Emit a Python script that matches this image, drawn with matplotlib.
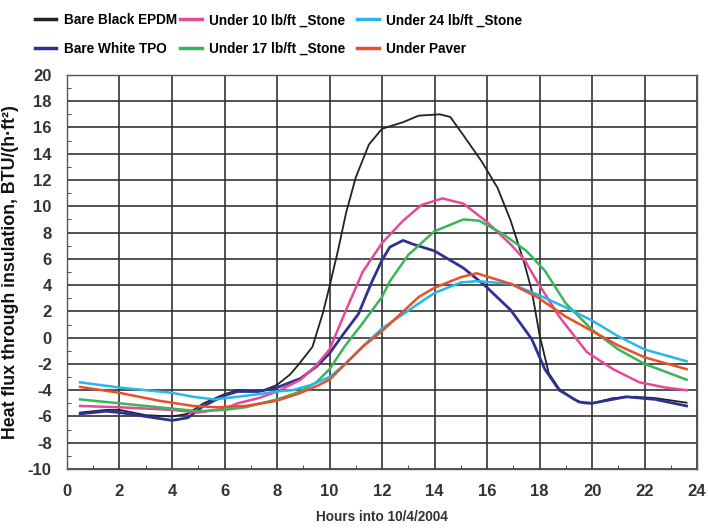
import matplotlib
matplotlib.use('Agg')
import matplotlib.pyplot as plt
from matplotlib import ticker

plt.rcParams['font.family'] = ['Liberation Sans', 'DejaVu Sans']
plt.rcParams['font.weight'] = 'bold'
plt.rcParams['axes.labelweight'] = 'bold'
plt.rcParams['axes.unicode_minus'] = False

# Bare Black EPDM
blackX = [0.5, 1.5, 2, 3, 4, 4.6, 5.2, 6, 6.5, 7, 7.5, 8, 8.5, 8.8, 9.35, 9.75, 10.0, 10.33, 10.63, 11.0, 11.5, 12.0,
          12.8, 13.4, 14.2, 14.6, 15.1, 15.8, 16.4, 16.9, 17.4, 17.7, 18.0, 18.35, 18.75, 19.3, 19.7, 20.0, 20.8, 21.6, 22.4, 23.6]
blackY = [-5.7, -5.5, -5.5, -5.9, -6.0, -5.8, -5.0, -4.3, -4.0, -4.05, -4.0, -3.6, -2.8, -2.1, -0.7, 1.9, 3.9, 6.7, 9.5, 12.2, 14.7, 15.9,
          16.4, 16.9, 17.0, 16.8, 15.4, 13.4, 11.4, 8.9, 5.8, 3.6, 0.2, -2.7, -3.9, -4.7, -5.0, -5.0, -4.6, -4.5, -4.6, -4.95]

# Bare White TPO
whiteX = [0.5, 1.5, 2, 3, 4, 4.6, 5.2, 6, 6.5, 7.3, 8, 8.9, 9.5, 10, 10.5, 11.1, 11.6, 12, 12.3, 12.8, 13.2, 14, 15.1, 15.9,
          16.9, 17.7, 18.2, 18.75, 19.5, 20, 21.3, 22.4, 23.6]
whiteY = [-5.8, -5.6, -5.7, -6.0, -6.3, -6.1, -5.2, -4.4, -4.1, -4.1, -3.8, -3.1, -2.2, -1.2, 0.2, 1.8, 4.2, 5.9, 6.9, 7.4, 7.1, 6.6, 5.3, 4.0,
          2.1, -0.1, -2.4, -4.0, -4.9, -5.0, -4.5, -4.7, -5.2]

# Under 10 lb/ft Stone
s10X = [0.5, 2, 4, 5, 6, 6.5, 7.3, 8, 8.9, 9.5, 10, 10.63, 11.26, 12, 12.8, 13.5, 14.3, 15.1, 16, 16.9, 17.4, 17.9,
        18.75, 19.8, 20.8, 21.8, 22.8, 23.6]
s10Y = [-5.2, -5.3, -5.5, -5.7, -5.4, -5.0, -4.6, -4.1, -3.2, -2.1, -0.9, 2.1, 5.0, 7.2, 8.9, 10.1, 10.6, 10.2, 8.8, 7.1, 6.0, 4.3,
        1.6, -1.1, -2.4, -3.4, -3.8, -4.0]

# Under 17 lb/ft Stone
s17X = [0.5, 2, 4, 5, 6, 6.8, 8, 8.9, 9.5, 10, 10.6, 11.26, 12, 12.3, 13, 14, 15.1, 15.7, 16.6, 17.5, 18.2, 19, 20, 21, 22, 23.6]
s17Y = [-4.7, -5.0, -5.4, -5.6, -5.5, -5.3, -4.7, -4.1, -3.4, -2.4, -0.6, 1.1, 3.1, 4.3, 6.3, 8.1, 9.0, 8.9, 7.9, 6.6, 5.1, 2.6, 0.6, -0.9, -2.0, -3.2]

# Under 24 lb/ft Stone
s24X = [0.5, 2, 4, 4.8, 5.6, 6.5, 7.3, 8, 8.6, 9.3, 10, 10.6, 11.3, 12, 13.4, 14, 15, 15.6, 16.9, 17.9, 19, 20, 21, 22, 23.6]
s24Y = [-3.4, -3.8, -4.2, -4.5, -4.7, -4.5, -4.3, -4.1, -4.0, -3.6, -3.0, -2.0, -0.6, 0.7, 2.6, 3.4, 4.2, 4.3, 4.1, 3.3, 2.3, 1.3, 0.1, -0.9, -1.8]

# Under Paver
paverX = [0.5, 2, 3.5, 4.8, 5.7, 6.8, 8, 8.9, 9.5, 10, 10.6, 11.26, 12, 13.4, 14, 15, 15.6, 16.9, 17.9, 19, 20, 21, 22, 23.6]
paverY = [-3.75, -4.2, -4.8, -5.2, -5.3, -5.2, -4.8, -4.2, -3.7, -3.2, -2.0, -0.7, 0.5, 3.1, 3.8, 4.6, 4.9, 4.1, 3.1, 1.6, 0.5, -0.6, -1.5, -2.4]

fig = plt.figure(figsize=(7.08, 5.29), dpi=100)
ax = fig.add_axes([0.0946, 0.1134, 0.89, 0.745])

l1, = ax.plot(blackX, blackY, color='#222222', lw=1.3, label='Bare Black EPDM')
l2, = ax.plot(whiteX, whiteY, color='#2e3192', lw=2.0, label='Bare White TPO')
l3, = ax.plot(s10X, s10Y, color='#e8489a', lw=1.8, label='Under 10 lb/ft _Stone')
l4, = ax.plot(s17X, s17Y, color='#3bb55a', lw=1.8, label='Under 17 lb/ft _Stone')
l5, = ax.plot(s24X, s24Y, color='#29b6e8', lw=1.8, label='Under 24 lb/ft _Stone')
l6, = ax.plot(paverX, paverY, color='#e8502a', lw=1.8, label='Under Paver')

ax.set_xlim(0, 24)
ax.set_ylim(-10, 20)
ax.xaxis.set_major_locator(ticker.MultipleLocator(2))
ax.xaxis.set_minor_locator(ticker.MultipleLocator(1))
ax.yaxis.set_major_locator(ticker.MultipleLocator(2))
ax.yaxis.set_minor_locator(ticker.MultipleLocator(1))
ax.tick_params(which='both', direction='in', colors='#333333', labelcolor='#333333', labelsize=12)
ax.tick_params(axis='y', which='major', length=0, pad=11)
ax.tick_params(axis='x', which='major', length=0, pad=11)
ax.tick_params(which='minor', length=3)
ax.grid(True, which='major', color='#333333', lw=1.2)
for s in ax.spines.values():
    s.set_color('#555555')
    s.set_linewidth(1.0)

ax.set_xlabel('Hours into 10/4/2004', fontsize=9.8, color='#333333', labelpad=8)
ax.set_ylabel('Heat flux through insulation, BTU/(h·ft²)', fontsize=12.8, color='#111111', labelpad=6)

# three legend columns placed by hand
for handles, xpos in (([l1, l2], 0.049), ([l3, l4], 0.254), ([l5, l6], 0.504)):
    leg = fig.legend(handles=handles, loc='upper left', bbox_to_anchor=(xpos, 0.975), frameon=False, fontsize=9.8,
                     handlelength=1.6, handletextpad=0.55, labelspacing=1.05, borderpad=0, borderaxespad=0)
    for h in leg.legend_handles:
        h.set_linewidth(2.5)

plt.savefig('out.png', dpi=100)
